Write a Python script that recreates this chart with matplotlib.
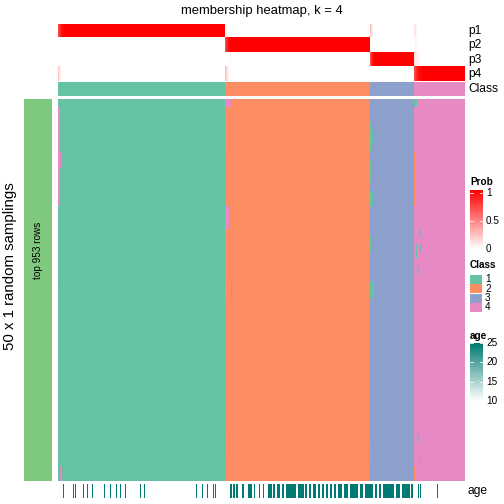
import numpy as np
import matplotlib
matplotlib.use("Agg")
import matplotlib.pyplot as plt
from matplotlib.colors import ListedColormap, LinearSegmentedColormap

plt.rcParams['font.family'] = ['Liberation Sans', 'DejaVu Sans']

# ---- data -------------------------------------------------------------
class_labels = [1, 2, 3, 4]
class_counts = [167, 145, 44, 51]
class_colors = ['#66C2A5', '#FC8D62', '#8DA0CB', '#E78AC3']
n_rows = 50

# membership probabilities that differ from 0/1 (column -> value)
p_edges = {
    'p1': {0: 0.72, 1: 0.8, 2: 0.87, 3: 0.92, 4: 0.96, 5: 0.98,
           312: 0.25, 313: 0.14, 314: 0.06, 356: 0.12, 357: 0.08, 358: 0.04},
    'p2': {167: 0.7, 168: 0.8, 169: 0.88, 170: 0.94, 171: 0.97,
           357: 0.04, 358: 0.03},
    'p3': {172: 0.05, 312: 0.7, 313: 0.82, 314: 0.9, 315: 0.96,
           356: 0.12, 357: 0.1, 358: 0.08, 359: 0.06, 360: 0.05, 361: 0.03},
    'p4': {0: 0.22, 1: 0.12, 2: 0.06, 167: 0.25, 168: 0.18, 169: 0.1, 170: 0.05,
           356: 0.7, 357: 0.77, 358: 0.84, 359: 0.9, 360: 0.93, 361: 0.95,
           362: 0.97, 363: 0.98},
}

# sampling runs whose class differs from consensus: (row0, row1, col0, col1, class)
deviations = [
    (1, 14, 0, 2, 4), (7, 9, 2, 3, 4), (24, 25, 5, 6, 4), (48, 50, 2, 3, 4),
    (0, 1, 167, 173, 4), (1, 7, 167, 168, 4), (14, 17, 167, 171, 4),
    (17, 24, 167, 168, 4), (24, 26, 173, 174, 3), (44, 47, 169, 170, 4),
    (3, 7, 312, 313, 1), (4, 6, 313, 315, 1), (8, 11, 312, 313, 1),
    (12, 14, 312, 315, 1), (18, 20, 312, 313, 1), (24, 26, 312, 316, 1),
    (45, 48, 313, 314, 1), (0, 1, 356, 359, 1), (7, 14, 356, 357, 2),
    (8, 9, 359, 360, 2), (17, 18, 362, 363, 3), (19, 20, 362, 363, 3),
    (19, 21, 358, 359, 1), (22, 23, 360, 361, 3), (44, 45, 360, 361, 3),
    (47, 48, 361, 362, 3), (48, 50, 356, 357, 2),
]

# columns that carry an age value (others are missing)
age_single = [5, 15, 17, 25, 29, 34, 46, 52, 58, 62, 67, 82, 86, 138, 144,
              149, 155, 157, 360, 362, 379]
age_ranges = [(172, 174), (175, 177), (178, 180), (184, 186), (190, 194),
              (196, 197), (201, 202), (205, 206), (210, 214), (215, 217),
              (219, 222), (224, 226), (228, 238), (240, 246), (247, 249),
              (251, 253), (255, 258), (260, 262), (264, 266), (268, 270),
              (272, 274), (276, 278), (280, 284), (286, 290), (292, 300),
              (302, 305), (307, 315), (317, 319), (321, 323), (325, 336),
              (338, 342), (344, 352), (353, 355)]
age_value = 25
age_range = (10, 25)
age_color = '#007A72'

# ---- build matrices ---------------------------------------------------
cls = np.repeat(class_labels, class_counts)
n_cols = len(cls)
prob = np.zeros((4, n_cols))
for k in range(4):
    prob[k, cls == class_labels[k]] = 1.0
for k, name in enumerate(['p1', 'p2', 'p3', 'p4']):
    for c, v in p_edges[name].items():
        prob[k, c] = v

mat = np.tile(cls, (n_rows, 1)).astype(float)
for r0, r1, c0, c1, k in deviations:
    mat[r0:r1, c0:c1] = k

age = np.full(n_cols, np.nan)
age[age_single] = age_value
for a, b in age_ranges:
    age[a:b] = age_value

# ---- figure -----------------------------------------------------------
W = H = 504
fig = plt.figure(figsize=(7, 7), dpi=72)


def px_axes(x0, y0, x1, y1):
    return fig.add_axes([x0 / W, 1 - y1 / H, (x1 - x0) / W, (y1 - y0) / H])


cmap_cls = ListedColormap(class_colors)
cmap_prob = LinearSegmentedColormap.from_list('prob', ['white', 'red'])
cmap_age = LinearSegmentedColormap.from_list('age', ['white', age_color])

L, R = 58, 465

ax = px_axes(L, 24, R, 81)
ax.imshow(prob, cmap=cmap_prob, vmin=0, vmax=1, aspect='auto', interpolation='nearest')
ax.axis('off')
for i, name in enumerate(['p1', 'p2', 'p3', 'p4']):
    fig.text(468 / W, 1 - (24 + 14.25 * (i + 0.5)) / H, name, fontsize=12, va='center')

ax = px_axes(L, 82, R, 96)
ax.imshow(cls[None, :], cmap=cmap_cls, vmin=0.5, vmax=4.5, aspect='auto', interpolation='nearest')
ax.axis('off')
fig.text(468 / W, 1 - 89 / H, 'Class', fontsize=12, va='center')

ax = px_axes(L, 99, R, 481)
ax.imshow(mat, cmap=cmap_cls, vmin=0.5, vmax=4.5, aspect='auto', interpolation='nearest')
ax.axis('off')

ax = px_axes(L, 484, R, 498)
ax.imshow(age[None, :], cmap=cmap_age, vmin=age_range[0], vmax=age_range[1],
          aspect='auto', interpolation='nearest')
ax.axis('off')
fig.text(468 / W, 1 - 491 / H, 'age', fontsize=12, va='center')

# left block annotation
ax = px_axes(24, 99, 52, 481)
ax.set_facecolor('#7FC97F')
ax.set_xticks([])
ax.set_yticks([])
for s in ax.spines.values():
    s.set_visible(False)
fig.text(38 / W, 1 - 250 / H, 'top 953 rows', fontsize=10, rotation=90,
         ha='center', va='center')
fig.text(10 / W, 1 - 266 / H, '50 x 1 random samplings', fontsize=15, rotation=90,
         ha='center', va='center')

fig.text(262 / W, 1 - 11 / H, 'membership heatmap, k = 4', fontsize=13,
         ha='center', va='center')

# ---- legends ----------------------------------------------------------
fig.text(470 / W, 1 - 182 / H, 'Prob', fontsize=10, fontweight='bold', va='center')
ax = px_axes(470, 190, 483, 249)
ax.imshow(np.linspace(1, 0, 100)[:, None], cmap=cmap_prob, vmin=0, vmax=1,
          aspect='auto', extent=[0, 1, 0, 1])
ax.axis('off')
for v, lab in [(1, '1'), (0.5, '0.5'), (0, '0')]:
    yy = 249 - v * 56
    fig.text(486 / W, 1 - yy / H, lab, fontsize=10, va='center')
    ax.plot([0, 0.2], [v * 56 / 59, v * 56 / 59], color='white', lw=0.8)
    ax.plot([0.8, 1], [v * 56 / 59, v * 56 / 59], color='white', lw=0.8)
ax.set_xlim(0, 1)
ax.set_ylim(0, 1)

fig.text(470 / W, 1 - 265 / H, 'Class', fontsize=10, fontweight='bold', va='center')
box_tops = [274.5, 284, 293.5, 303]
for k, top in enumerate(box_tops):
    ax = px_axes(470, top, 482, top + 9)
    ax.set_facecolor(class_colors[k])
    ax.set_xticks([])
    ax.set_yticks([])
    for s in ax.spines.values():
        s.set_visible(False)
    fig.text(485 / W, 1 - (top + 4.5) / H, str(class_labels[k]), fontsize=10, va='center')

fig.text(470 / W, 1 - 336 / H, 'age', fontsize=10, fontweight='bold', va='center')
ax = px_axes(470, 343, 483, 401)
ax.imshow(np.linspace(age_range[1], age_range[0], 100)[:, None], cmap=cmap_age,
          vmin=age_range[0], vmax=age_range[1], aspect='auto', extent=[0, 1, 0, 1])
ax.set_xlim(0, 1)
ax.set_ylim(0, 1)
ax.axis('off')
for v in [25, 20, 15, 10]:
    f = (v - age_range[0]) / (age_range[1] - age_range[0])
    yy = 401 - f * 58
    fig.text(486 / W, 1 - yy / H, str(v), fontsize=10, va='center')
    ax.plot([0, 0.2], [f, f], color='white', lw=0.8)
    ax.plot([0.8, 1], [f, f], color='white', lw=0.8)

fig.savefig('out.png', dpi=72)
